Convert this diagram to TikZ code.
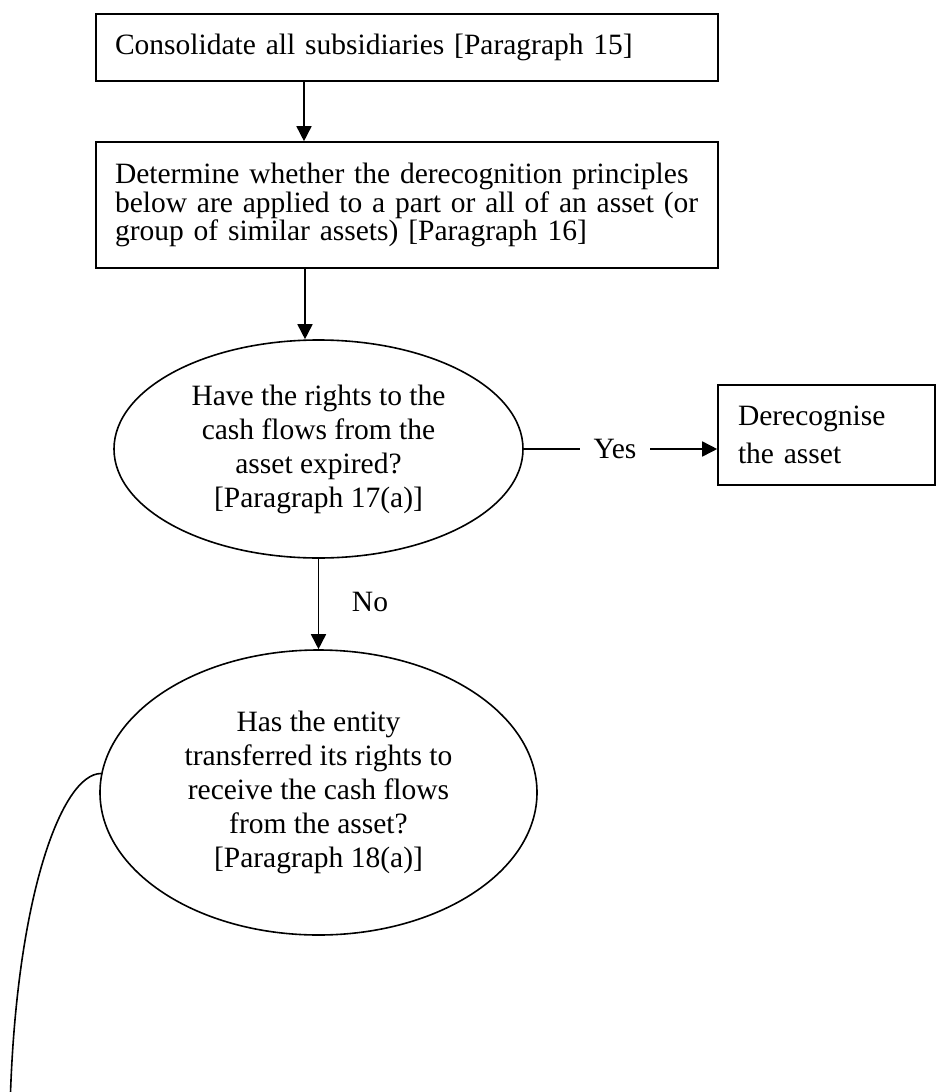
\documentclass[tikz,border=0pt]{standalone}
\usepackage{fontspec}
\setmainfont{Liberation Serif}
\usetikzlibrary{shapes.geometric,arrows.meta}
\begin{document}
\begin{tikzpicture}[x=1pt,y=-1pt,line width=1.6pt,>={Triangle[length=15pt,width=15pt]},
	  txt/.style={font=\fontsize{29.5pt}{#1}\selectfont},
	  stepbox/.style={draw,rectangle,inner sep=0pt,align=left},
	  question/.style={draw,ellipse,inner sep=0pt,align=center,txt=34pt}]
	  \useasboundingbox(0, 0) rectangle (936, 1092);
	  \node[stepbox,txt=28.5pt,minimum width=622pt,minimum height=67pt,text width=584pt](consol) at (407, 47.5) {Consolidate all subsidiaries [Paragraph 15]};
	  \node[stepbox,txt=28.5pt,minimum width=622pt,minimum height=126pt,text width=584pt](partall) at (407, 205) {Determine whether the derecognition principles\\below are applied to a part or all of an asset (or\\group of similar assets) [Paragraph 16]};
	  \node[question,minimum width=409pt,minimum height=218pt](expired) at (318.5, 449) {Have the rights to the\\cash flows from the\\asset expired?\\{[Paragraph 17(a)]}};
	  \node[question,minimum width=437pt,minimum height=285pt](transfer) at (318.5, 792.5) {Has the entity\\transferred its rights to\\receive the cash flows\\from the asset?\\{[Paragraph 18(a)]}};
	  \node[stepbox,txt=38pt,minimum width=217pt,minimum height=100pt,text width=177pt](derec) at (826.5, 435) {Derecognise\\the asset};
	  \node[txt=34pt,inner xsep=13pt](yes) at (615, 449) {Yes};
	  \node[txt=34pt](no) at (370, 602) {No};
	  \coordinate(curveend) at (10, 1110);
	  \draw[->]([xshift=-103pt]consol.south) -- ([xshift=-103pt]consol.south |- partall.north);
	  \draw[->]([xshift=-102pt]partall.south) -- ([xshift=-102pt]partall.south |- expired.north);
	  \draw(expired.east) -- (yes.west);
	  \draw[->](yes.east) -- (yes.east -| derec.west);
	  \draw[->](expired) -- (transfer);
	  \draw(transfer.175) .. controls +(-40, 0) and +(5, -210) .. (curveend);
\end{tikzpicture}
\end{document}
